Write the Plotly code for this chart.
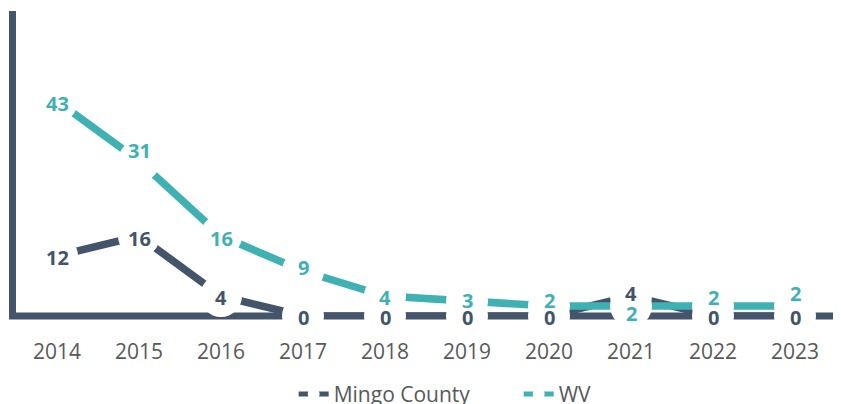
import plotly.graph_objects as go

years = ["2014", "2015", "2016", "2017", "2018", "2019", "2020", "2021", "2022", "2023"]
mingo = [12, 16, 4, 0, 0, 0, 0, 4, 0, 0]
wv = [43, 31, 16, 9, 4, 3, 2, 2, 2, 2]

DARK = "#44546A"
TEAL = "#40B1B3"
GRAY = "#595959"
FONT = "Open Sans"

# label vertical nudges in pixels (style only)
mingo_shift = [-1, -2, -1, -1, -1, -1, -1, 3, -1, -1]
wv_shift = [-2, 11, -2, 4, -1, 1, 6, -7, 9, 13]

fig = go.Figure()
for name, vals, col in [("Mingo County", mingo, DARK), ("WV", wv, TEAL)]:
    fig.add_trace(go.Scatter(
        x=years, y=vals, name=name, mode="lines+markers",
        line=dict(color=col, width=7.5),
        marker=dict(size=42, color="white", line=dict(width=0)),
        cliponaxis=False,
    ))

annotations = []
for vals, shifts, col in [(mingo, mingo_shift, DARK), (wv, wv_shift, TEAL)]:
    for i, (v, s) in enumerate(zip(vals, shifts)):
        annotations.append(dict(
            x=i, y=v, xref="x", yref="y", text="<b>%d</b>" % v, showarrow=False, yshift=s,
            font=dict(family=FONT, size=20, color=col),
        ))

# the page body adds an 8px offset on the left and top
fig.update_layout(
    width=833, height=396,
    margin=dict(l=8, r=5, t=3, b=88, autoexpand=False),
    plot_bgcolor="white", paper_bgcolor="white",
    font=dict(family=FONT, size=21, color=GRAY),
    showlegend=True,
    legend=dict(orientation="h", x=0.613, xanchor="center", y=-0.257, yanchor="middle",
                font=dict(family=FONT, size=21, color=GRAY), traceorder="normal",
                entrywidth=180, itemsizing="constant"),
    annotations=annotations,
    shapes=[dict(type="line", xref="paper", yref="paper", x0=-0.0085, x1=1.01, y0=0, y1=0,
                 line=dict(color=DARK, width=7), layer="below")],
)
fig.update_xaxes(type="category", range=[-0.5, 9.5], showgrid=False, showline=False,
                 zeroline=False, ticks="", ticklabelstandoff=21, automargin=False,
                 tickfont=dict(family=FONT, size=21, color=GRAY))
fig.update_yaxes(range=[0, 61], showgrid=False, showline=True, linecolor=DARK, linewidth=7,
                 layer="below traces", zeroline=False, showticklabels=False, ticks="",
                 automargin=False)

fig.write_html("out.html")
